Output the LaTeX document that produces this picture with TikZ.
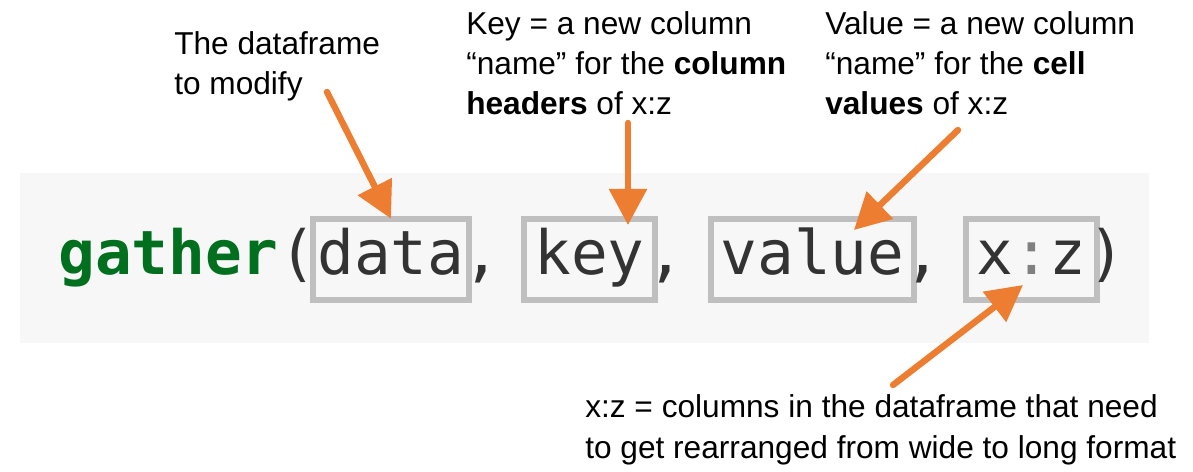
\documentclass[tikz,border=0pt]{standalone}
\usepackage{fontspec}
\setmainfont{Liberation Sans}
\newfontfamily\codefont{DejaVu Sans Mono}
\usetikzlibrary{arrows.meta}

\definecolor{callorange}{HTML}{ED7D31}
\definecolor{boxgray}{HTML}{BFBFBF}
\definecolor{codebg}{HTML}{F7F7F7}
\definecolor{codetext}{HTML}{333333}
\definecolor{fungreen}{RGB}{0,112,30}

\tikzset{
  note/.style={anchor=base west, inner sep=0pt, align=left,
    font=\fontsize{22.5}{28.7}\selectfont},
  code/.style={anchor=base west, inner sep=0pt, text=codetext,
    font=\codefont\fontsize{43.4}{50}\selectfont},
  argbox/.style={draw=boxgray, line width=0.15cm, inner sep=0pt, outer sep=0pt,
    text=codetext, text height=33pt, text depth=11pt, minimum height=2.04cm,
    font=\codefont\fontsize{43.4}{50}\selectfont},
  callout/.style={draw=callorange, line width=0.16cm, line cap=round,
    -{Triangle[length=0.9cm, width=0.92cm]}}
}

\begin{document}
\begin{tikzpicture}[x=0.025cm, y=-0.025cm]
	\useasboundingbox (0,0) rectangle (1193,472);
	\fill [codebg] (20,173) rectangle (1149,343);

	% the call
	\node [code, text=fungreen, font=\codefont\bfseries\fontsize{43.4}{50}\selectfont](fun) at (58,275) {gather};
	\node [code](lpar) at (278.8,275) {(};
	\node [argbox, minimum width=3.9cm](data) at (391,259.5) {data};
	\node [code](comma1) at (462.8,275) {,};
	\node [argbox, minimum width=3.28cm](key) at (589.5,259.5) {key};
	\node [code](comma2) at (646.8,275) {,};
	\node [argbox, minimum width=5.08cm](value) at (812.5,259.5) {value};
	\node [code](comma3) at (904.4,275) {,};
	\node [argbox, minimum width=3.28cm](xz) at (1031.5,259.5) {x{\color{gray}:}z};
	\node [code](rpar) at (1088.4,275) {)};

	% notes (anchored on the baseline of their last line)
	\node [note](datanote) at (174,95) {The dataframe\\to modify};
	\node [note](keynote) at (466,115) {Key = a new column\\“name” for the \textbf{column}\\\textbf{headers} of x:z};
	\node [note](valuenote) at (825,115) {Value = a new column\\“name” for the \textbf{cell}\\\textbf{values} of x:z};
	\node [note](xznote) at (585,458) {x:z = columns in the dataframe that need\\to get rearranged from wide to long format};

	% arrows
	\coordinate (datatail) at (327,92);
	\coordinate (keytail) at (628,123);
	\coordinate (keytip) at (628,225);
	\coordinate (valuetail) at (958,130);
	\coordinate (valuetip) at (854,230);
	\coordinate (xztail) at (893,385);
	\coordinate (xztip) at (1023,285);
	\draw [callout](datatail)--(data.north);
	\draw [callout](keytail)--(keytip);
	\draw [callout](valuetail)--(valuetip);
	\draw [callout](xztail)--(xztip);
\end{tikzpicture}
\end{document}
